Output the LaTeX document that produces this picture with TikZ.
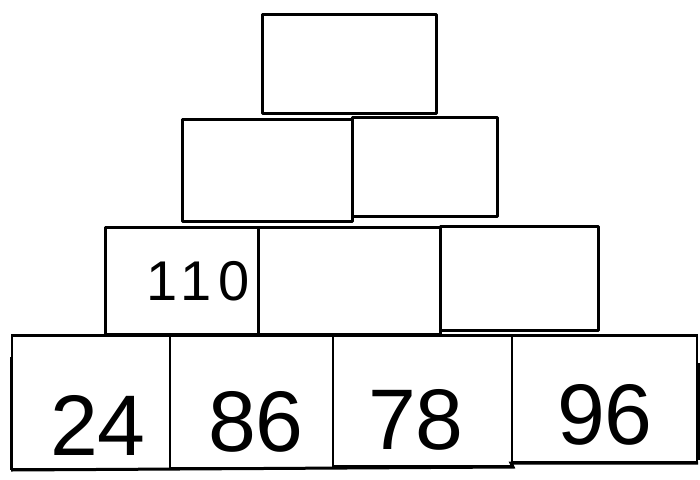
\documentclass[tikz,border=0pt]{standalone}
\usepackage{fontspec}
\setmainfont{Liberation Sans}
\begin{document}
\begin{tikzpicture}[x=1pt,y=-1pt,
  cell/.style={draw, line width=3pt, inner sep=0pt, line join=round},
  thin/.style={draw, line width=2pt, inner sep=0pt},
  big/.style={font=\fontsize{86}{86}\selectfont, inner sep=0pt},
  mid/.style={font=\fontsize{56}{56}\selectfont\addfontfeature{LetterSpace=12}, inner sep=0pt}]
\useasboundingbox (0,0) rectangle (700,479);
\newcommand{\mkcell}[6]{\node[#1, minimum width={(#5-#3)*1pt}, minimum height={(#6-#4)*1pt}] (#2) at ({(#3+#5)/2},{(#4+#6)/2}) {};}
% bottom row
\mkcell{thin}{a1}{12}{336}{170}{469}
\mkcell{thin}{a2}{170}{336}{333}{468}
\mkcell{thin}{a3}{333}{336}{512}{466}
\mkcell{thin}{a4}{512}{336}{697}{462}
\draw[line width=3pt] (a1.north west) -- (a4.north east);
\draw[line width=3pt] (a1.south west) -- (a3.south east) -- (a4.south west) -- (a4.south east);
\draw[line width=3pt] ([yshift=-22]a1.north west) -- (a1.south west);
\draw[line width=3pt] ([yshift=-28]a4.north east) -- ([yshift=3]a4.south east);
% third row
\mkcell{cell}{b1}{105}{227}{258}{334}
\mkcell{cell}{b2}{258}{227}{440}{334}
\mkcell{cell}{b3}{440}{226}{598}{330}
% second row
\mkcell{cell}{c1}{182}{119}{352}{221}
\mkcell{cell}{c2}{352}{117}{497}{216}
% top
\mkcell{cell}{d1}{262}{14}{436}{113}
% numbers
\node[big] (n24) at (98,425) {24};
\node[big] (n86) at (256,422) {86};
\node[big] (n78) at (416,420) {78};
\node[big] (n96) at (605,415) {96};
\node[mid] (n110) at (198,281) {110};
\end{tikzpicture}
\end{document}
